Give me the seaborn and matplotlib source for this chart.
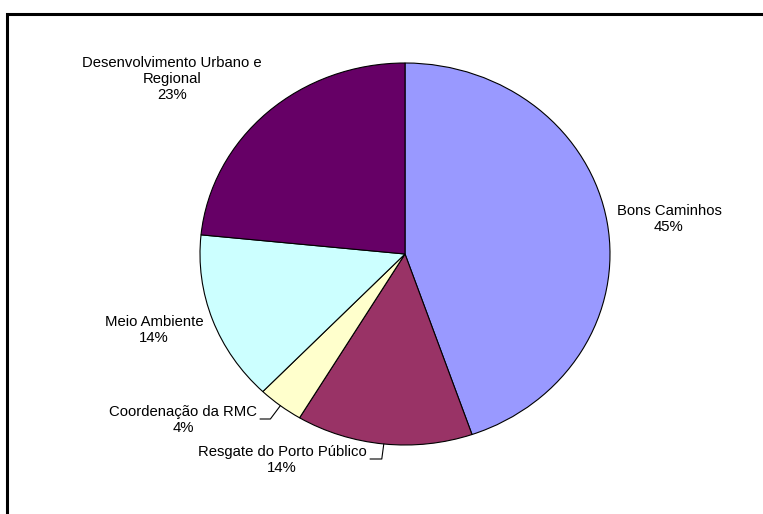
import numpy as np
import matplotlib.pyplot as plt
import seaborn as sns
from matplotlib.lines import Line2D

# data
labels = ["Bons Caminhos", "Resgate do Porto Público", "Coordenação da RMC",
          "Meio Ambiente", "Desenvolvimento Urbano e\nRegional"]
values = [44.7, 13.9, 3.6, 14.4, 23.4]
colors = ["#9999FF", "#993366", "#FFFFCC", "#CCFFFF", "#660066"]

sns.set_style("white")
plt.rcParams['font.family'] = ['Liberation Sans', 'DejaVu Sans']

W, H = 763, 514
cx, cy = 405, 254      # pie centre in pixels
rx, ry = 205, 191      # pie radii in pixels (slightly stretched, as in the original)

fig = plt.figure(figsize=(W / 100, H / 100), dpi=100)
ax = fig.add_axes([0, 0, 1, 1])
wedges, _ = ax.pie(values, colors=colors, startangle=90, counterclock=False,
                   wedgeprops=dict(edgecolor="black", linewidth=0.8))
ax.set_aspect("auto")
ax.set_xlim(-cx / rx, (W - cx) / rx)
ax.set_ylim(-(H - cy) / ry, cy / ry)
ax.axis("off")


def to_data(px, py):
    return (px - cx) / rx, (cy - py) / ry


# label centres (pixels)
label_pos = [(669, 219), (282, 460), (183, 420), (154, 330), (172, 79)]
for lab, v, (px, py) in zip(labels, values, label_pos):
    x, y = to_data(px, py)
    ax.text(x, y, f"{lab}\n{v:.0f}%", ha="center", va="center",
            fontsize=10.7, linespacing=1.15, color="black")

# leader lines for the two small labels: (index, line start x, elbow offset)
leaders = [(1, 370, -2), (2, 260, -10)]
for i, sx, off in leaders:
    w = wedges[i]
    th = np.deg2rad((w.theta1 + w.theta2) / 2)
    ex, ey = np.cos(th), np.sin(th)
    ly = to_data(0, label_pos[i][1] - 1)[1]
    x0 = to_data(sx, 0)[0]
    x1 = ex + off / rx
    ax.plot([x0, x1, ex], [ly, ly, ey], color="black", lw=0.8)

# chart frame (only top and left edges visible)
fig.add_artist(Line2D([7 / W, 7 / W, 1.0], [-0.01, 1 - 14 / H, 1 - 14 / H],
                      transform=fig.transFigure, color="black", lw=2.2,
                      solid_joinstyle="miter"))

fig.savefig("out.png", dpi=100)
